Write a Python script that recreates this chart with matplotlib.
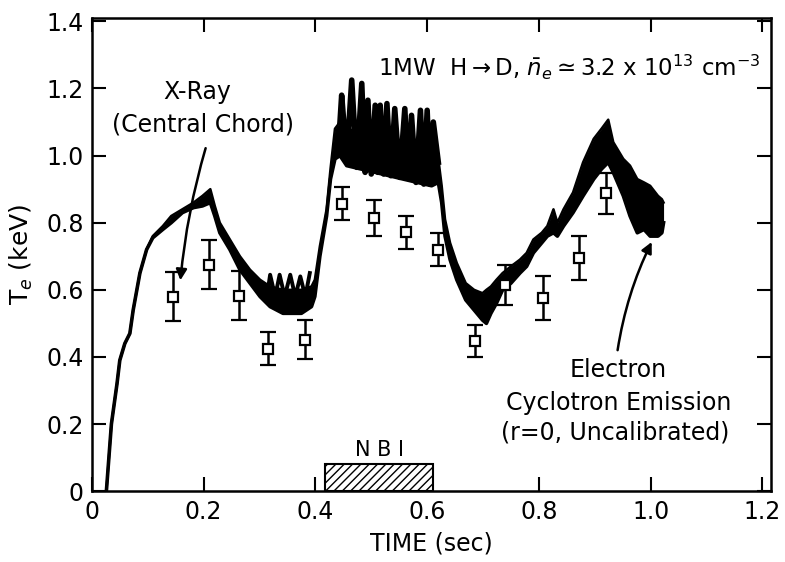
import matplotlib.pyplot as plt
import numpy as np

plt.rcParams['font.family'] = ['DejaVu Sans']
plt.rcParams['mathtext.fontset'] = 'dejavusans'

# ECE trace envelope (time in sec, Te in keV)
ece_t = [0.026, 0.035, 0.045, 0.050, 0.059, 0.068, 0.074, 0.086, 0.098, 0.109,
         0.127, 0.142, 0.162, 0.182, 0.198, 0.212, 0.220, 0.229, 0.247, 0.265,
         0.283, 0.301, 0.319, 0.342, 0.375, 0.393, 0.399, 0.408, 0.420, 0.427,
         0.435, 0.444, 0.456, 0.507, 0.557, 0.608, 0.620, 0.626, 0.632, 0.641,
         0.653, 0.669, 0.684, 0.699, 0.706, 0.714, 0.724, 0.735, 0.750, 0.766,
         0.778, 0.790, 0.805, 0.815, 0.826, 0.833, 0.844, 0.861, 0.879, 0.898,
         0.912, 0.924, 0.933, 0.951, 0.963, 0.976, 0.988, 0.999, 1.013, 1.020,
         1.023]
ece_lo = [0.00, 0.20, 0.32, 0.39, 0.44, 0.47, 0.54, 0.65, 0.72, 0.755,
          0.78, 0.80, 0.83, 0.845, 0.85, 0.86, 0.82, 0.77, 0.72, 0.66,
          0.62, 0.58, 0.55, 0.53, 0.53, 0.55, 0.58, 0.70, 0.82, 0.93,
          0.99, 1.00, 0.97, 0.95, 0.93, 0.91, 0.92, 0.86, 0.76, 0.69,
          0.63, 0.57, 0.54, 0.51, 0.50, 0.53, 0.56, 0.60, 0.62, 0.65,
          0.67, 0.71, 0.74, 0.76, 0.77, 0.76, 0.79, 0.83, 0.88, 0.93,
          0.96, 0.98, 0.95, 0.88, 0.82, 0.77, 0.78, 0.76, 0.76, 0.77,
          0.80]
ece_hi = [0.00, 0.20, 0.32, 0.39, 0.44, 0.47, 0.54, 0.65, 0.72, 0.76,
          0.79, 0.82, 0.84, 0.86, 0.88, 0.90, 0.85, 0.80, 0.75, 0.70,
          0.66, 0.63, 0.61, 0.60, 0.60, 0.61, 0.63, 0.73, 0.84, 0.96,
          1.08, 1.10, 1.08, 1.06, 1.04, 1.03, 0.99, 0.91, 0.81, 0.74,
          0.68, 0.62, 0.60, 0.59, 0.60, 0.61, 0.63, 0.65, 0.67, 0.69,
          0.71, 0.75, 0.77, 0.79, 0.84, 0.80, 0.84, 0.89, 0.98, 1.05,
          1.08, 1.107, 1.04, 0.99, 0.97, 0.93, 0.92, 0.91, 0.88, 0.87,
          0.86]

# sawtooth spikes on top of the envelope
saw_ohm_t = [0.315, 0.319, 0.328, 0.336, 0.345, 0.355, 0.364, 0.373, 0.382, 0.390]
saw_ohm_te = [0.60, 0.645, 0.58, 0.645, 0.58, 0.645, 0.58, 0.64, 0.58, 0.65]
saw_nbi_t = [0.444, 0.447, 0.456, 0.465, 0.474, 0.483, 0.489, 0.494, 0.500,
             0.507, 0.512, 0.516, 0.522, 0.528, 0.535, 0.542, 0.551, 0.560,
             0.566, 0.572, 0.580, 0.588, 0.594, 0.600, 0.605, 0.611, 0.620]
saw_nbi_te = [1.10, 1.18, 0.99, 1.225, 0.965, 1.215, 0.95, 1.165, 0.945,
              1.15, 0.95, 1.15, 0.945, 1.155, 0.94, 1.14, 0.935, 1.14,
              0.935, 1.12, 0.92, 1.135, 0.915, 1.135, 0.915, 1.10, 0.98]

# X-ray Te points with error bars
xr_t = [0.145, 0.210, 0.263, 0.316, 0.381, 0.447, 0.504, 0.563, 0.620,
        0.686, 0.740, 0.808, 0.872, 0.920]
xr_te = [0.58, 0.675, 0.583, 0.424, 0.451, 0.857, 0.814, 0.771, 0.72,
         0.448, 0.615, 0.575, 0.695, 0.888]
xr_err = [0.072, 0.072, 0.072, 0.049, 0.058, 0.049, 0.053, 0.05, 0.049,
          0.048, 0.06, 0.065, 0.065, 0.061]

# NBI pulse
nbi_on, nbi_off, nbi_h = 0.417, 0.611, 0.08

fig = plt.figure(figsize=(7.85, 5.62), dpi=100)
ax = fig.add_axes([0.117, 0.126, 0.865, 0.842])

ax.fill_between(ece_t, ece_lo, ece_hi, color='black', lw=0)
ax.plot(ece_t, ece_lo, color='black', lw=2.6, solid_joinstyle='round')
ax.plot(ece_t, ece_hi, color='black', lw=1.8, solid_joinstyle='round')
ax.plot(saw_ohm_t, saw_ohm_te, color='black', lw=2.8)
ax.plot(saw_nbi_t, saw_nbi_te, color='black', lw=4.0)

ax.errorbar(xr_t, xr_te, yerr=xr_err, fmt='s', ms=7, mfc='white', mec='black',
            mew=1.6, ecolor='black', elinewidth=1.8, capsize=5.5, capthick=1.8,
            zorder=5)

ax.add_patch(plt.Rectangle((nbi_on, 0), nbi_off - nbi_on, nbi_h,
                           facecolor='white', edgecolor='black', hatch='////',
                           lw=1.5, zorder=4))
ax.text((nbi_on + nbi_off) / 2, 0.122, 'N B I', ha='center', va='center',
        fontsize=15)

ax.text(0.188, 1.188, 'X-Ray', ha='center', va='center', fontsize=17)
ax.text(0.199, 1.093, '(Central Chord)', ha='center', va='center', fontsize=17)
ax.annotate('', xy=(0.158, 0.62), xytext=(0.205, 1.03),
            arrowprops=dict(arrowstyle='-|>', color='black', lw=1.8,
                            mutation_scale=16,
                            connectionstyle='arc3,rad=0.05'))

ax.text(0.512, 1.263,
        r'1MW  H$\rightarrow$D, $\bar{n}_e \simeq 3.2$ x 10$^{13}$ cm$^{-3}$',
        ha='left', va='center', fontsize=16.5)

ax.text(0.942, 0.361, 'Electron', ha='center', va='center', fontsize=17)
ax.text(0.942, 0.263, 'Cyclotron Emission', ha='center', va='center',
        fontsize=17)
ax.text(0.936, 0.176, '(r=0, Uncalibrated)', ha='center', va='center',
        fontsize=17)
ax.annotate('', xy=(1.004, 0.75), xytext=(0.940, 0.412),
            arrowprops=dict(arrowstyle='-|>', color='black', lw=1.8,
                            mutation_scale=16,
                            connectionstyle='arc3,rad=-0.08'))

ax.set_xlim(0, 1.215)
ax.set_ylim(0, 1.41)
ax.set_xticks(np.arange(0, 1.21, 0.2))
ax.set_xticklabels(['0', '0.2', '0.4', '0.6', '0.8', '1.0', '1.2'])
ax.set_yticks(np.arange(0, 1.41, 0.2))
ax.set_yticklabels(['0', '0.2', '0.4', '0.6', '0.8', '1.0', '1.2', '1.4'])
ax.tick_params(direction='in', length=10, width=1.5, labelsize=17,
               top=True, right=True, pad=6)
for s in ax.spines.values():
    s.set_linewidth(1.8)

ax.set_xlabel('TIME (sec)', fontsize=17, labelpad=6)
ax.set_ylabel(r'T$_e$ (keV)', fontsize=18, labelpad=8)

fig.savefig('out.png', dpi=100)
